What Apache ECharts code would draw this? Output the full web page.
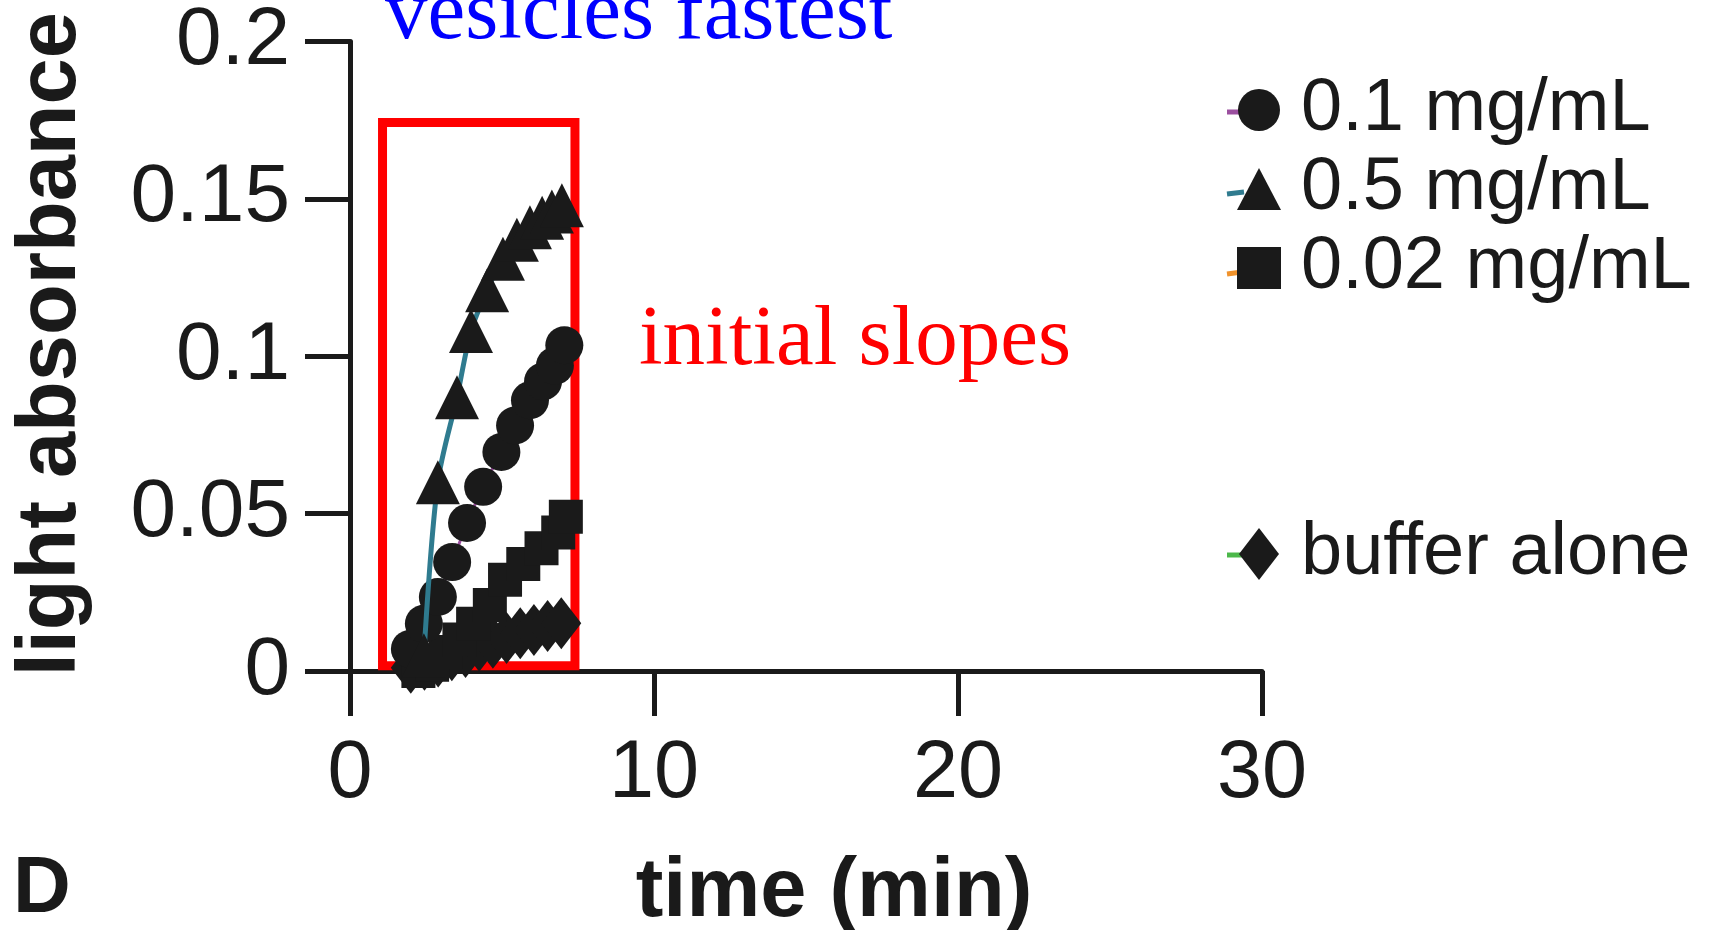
<!DOCTYPE html>
<html><head><meta charset="utf-8">
<script src="https://cdn.jsdelivr.net/npm/echarts@6/dist/echarts.min.js"></script>
<style>html,body{margin:0;padding:0;background:#fff}#c{width:1714px;height:930px}</style>
</head><body><div id="c"></div>
<script>
// ---- data ----
const xTicks = [0, 10, 20, 30];
const yTicks = [0, 0.05, 0.1, 0.15, 0.2];
const seriesNames = ['0.1 mg/mL', '0.5 mg/mL', '0.02 mg/mL', 'buffer alone'];

// 0.1 mg/mL (circles)
const timeC = [1.97, 2.43, 2.89, 3.36, 3.85, 4.38, 4.98, 5.43, 5.92, 6.35, 6.74, 7.05];
const absC  = [0.007, 0.015, 0.0235, 0.0346, 0.047, 0.0585, 0.0696, 0.078, 0.086, 0.092, 0.097, 0.1035];
// 0.5 mg/mL (triangles)
const timeT = [2.43, 2.89, 3.52, 3.98, 4.51, 5.03, 5.49, 5.92, 6.32, 6.64, 6.97];
const absT  = [0.005, 0.060, 0.087, 0.108, 0.121, 0.131, 0.137, 0.141, 0.144, 0.146, 0.148];
// 0.02 mg/mL (squares)
const timeS = [2.25, 2.7, 3.15, 3.6, 4.05, 4.6, 5.1, 5.7, 6.3, 6.85, 7.1];
const absS  = [0.000, 0.002, 0.006, 0.010, 0.015, 0.021, 0.029, 0.034, 0.039, 0.044, 0.049];
// buffer alone (diamonds)
const timeD = [2.0, 2.45, 2.9, 3.35, 3.8, 4.25, 4.7, 5.15, 5.6, 6.05, 6.5, 6.95];
const absD  = [0.001, 0.002, 0.003, 0.005, 0.006, 0.008, 0.009, 0.0105, 0.012, 0.013, 0.0143, 0.0152];

// annotation box (time, absorbance corners)
const boxCorners = [[1.07, 0.1743], [7.40, 0.0017]];
const annotationTop = 'vesicles fastest';
const annotationSide = 'initial slopes';
const panelLetter = 'D';

// ---- chart ----
const pairs = (xs, ys) => xs.map((x, i) => [x, ys[i]]);
const INK = '#1a1a1a';
const SANS = '"Liberation Sans", Arial, Helvetica, sans-serif';
const SERIF = '"Liberation Serif", "Times New Roman", serif';
const lineColors = ['#9b4f9f', '#2f7b8f', '#f0922b', '#4cb84a'];

const chart = echarts.init(document.getElementById('c'), null, {renderer: 'canvas'});

function mkSeries(name, data, symbol, size, color, width, z) {
  return {
    name, type: 'line', data, symbol, symbolSize: size, smooth: 0.3,
    showAllSymbol: true, clip: false, z,
    itemStyle: {color: INK, borderWidth: 0},
    lineStyle: {color, width},
    emphasis: {disabled: true}
  };
}

const legendText = {color: INK, fontFamily: SANS, fontSize: 74, padding: [0, 0, 0, 15]};

chart.setOption({
  animation: false,
  backgroundColor: '#ffffff',
  grid: {left: 350, right: 452, top: 41.5, bottom: 259, outerBoundsMode: 'none', containLabel: false},
  xAxis: {
    type: 'value', min: xTicks[0], max: xTicks[xTicks.length - 1], interval: xTicks[1] - xTicks[0],
    name: 'time (min)', nameLocation: 'middle', nameGap: 181,
    nameTextStyle: {color: INK, fontFamily: SANS, fontSize: 83, fontWeight: 'bold', padding: [0, 0, 0, 56]},
    axisLine: {show: true, lineStyle: {color: INK, width: 5}},
    axisTick: {show: true, inside: false, length: 45, lineStyle: {color: INK, width: 5}},
    axisLabel: {color: INK, fontFamily: SANS, fontSize: 81, margin: 63},
    splitLine: {show: false}
  },
  yAxis: {
    type: 'value', min: yTicks[0], max: yTicks[yTicks.length - 1], interval: yTicks[1] - yTicks[0],
    name: 'light absorbance', nameLocation: 'middle', nameGap: 256,
    nameTextStyle: {color: INK, fontFamily: SANS, fontSize: 83, fontWeight: 'bold', padding: [0, 0, 0, 24]},
    axisLine: {show: true, lineStyle: {color: INK, width: 5}},
    axisTick: {show: true, inside: false, length: 45, lineStyle: {color: INK, width: 5}},
    axisLabel: {color: INK, fontFamily: SANS, fontSize: 82, margin: 60},
    splitLine: {show: false}
  },
  legend: [
    {
      data: [
        {name: seriesNames[0], icon: 'circle'},
        {name: seriesNames[1], icon: 'triangle'},
        {name: seriesNames[2], icon: 'rect'}
      ],
      orient: 'vertical', left: 1237, top: 73, padding: 0,
      itemWidth: 44, itemHeight: 42, itemGap: 5,
      itemStyle: {color: INK}, textStyle: legendText, selectedMode: false
    },
    {
      data: [{name: seriesNames[3], icon: 'diamond'}],
      orient: 'vertical', left: 1239, top: 517, padding: 0,
      itemWidth: 40, itemHeight: 52, symbolKeepAspect: false,
      itemStyle: {color: INK},
      textStyle: Object.assign({}, legendText, {padding: [0, 0, 0, 17]}),
      selectedMode: false
    }
  ],
  series: [
    mkSeries(seriesNames[3], pairs(timeD, absD), 'diamond', [40, 52], lineColors[3], 3, 2),
    mkSeries(seriesNames[2], pairs(timeS, absS), 'rect', 34, lineColors[2], 3, 3),
    mkSeries(seriesNames[0], pairs(timeC, absC), 'circle', 38, lineColors[0], 3, 4),
    mkSeries(seriesNames[1], pairs(timeT, absT), 'triangle', 44, lineColors[1], 5, 5),
    {
      name: 'box', type: 'line', data: [], z: 10, silent: true,
      markArea: {
        silent: true,
        itemStyle: {color: 'rgba(0,0,0,0)', borderColor: '#ff0000', borderWidth: 9},
        label: {show: false},
        data: [[{xAxis: boxCorners[0][0], yAxis: boxCorners[0][1]}, {xAxis: boxCorners[1][0], yAxis: boxCorners[1][1]}]]
      }
    }
  ],
  graphic: [
    {type: 'text', z: 20, style: {text: annotationTop, x: 385, y: 16, align: 'left', verticalAlign: 'middle', fill: '#0000ff', font: '85px ' + SERIF}},
    {type: 'text', z: 20, style: {text: annotationSide, x: 639, y: 342, align: 'left', verticalAlign: 'middle', fill: '#ff0000', font: '85px ' + SERIF}},
    {type: 'text', z: 20, style: {text: panelLetter, x: 42, y: 890, align: 'center', verticalAlign: 'middle', fill: INK, font: 'bold 80px ' + SANS}},
    {type: 'line', z: 1, shape: {x1: 1227, y1: 112, x2: 1242, y2: 112}, style: {stroke: lineColors[0], lineWidth: 5}},
    {type: 'line', z: 1, shape: {x1: 1227, y1: 194, x2: 1244, y2: 192}, style: {stroke: lineColors[1], lineWidth: 5}},
    {type: 'line', z: 1, shape: {x1: 1227, y1: 274, x2: 1242, y2: 272}, style: {stroke: lineColors[2], lineWidth: 5}},
    {type: 'line', z: 1, shape: {x1: 1227, y1: 555, x2: 1242, y2: 555}, style: {stroke: lineColors[3], lineWidth: 5}}
  ]
});
</script></body></html>
